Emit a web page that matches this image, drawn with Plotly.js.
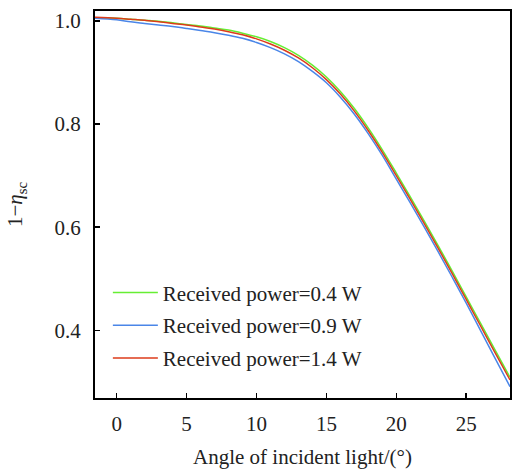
<!DOCTYPE html>
<html>
<head>
<meta charset="utf-8">
<script src="https://cdn.plot.ly/plotly-3.0.1.min.js"></script>
<style>
html,body{margin:0;padding:0;background:#fff;}
#chart{width:512px;height:469px;}
</style>
</head>
<body>
<div id="chart"></div>
<script>
// Angle of incident light (degrees)
const angles = [-1.55, 0, 1, 2, 3, 4, 5, 6, 7, 8, 9, 10, 11, 12, 13, 14, 15, 16, 17, 18, 19, 20, 21, 22, 23, 24, 25, 26, 27, 28.13];
// 1 - eta_sc for each received power
const power04 = [1.006, 1.005, 1.003, 1.001, 0.999, 0.996, 0.993, 0.990, 0.986, 0.982, 0.976, 0.969, 0.960, 0.948, 0.933, 0.914, 0.891, 0.863, 0.830, 0.792, 0.750, 0.705, 0.659, 0.612, 0.564, 0.515, 0.465, 0.415, 0.365, 0.309];
const power09 = [1.005, 1.002, 0.998, 0.995, 0.992, 0.989, 0.985, 0.981, 0.977, 0.972, 0.966, 0.958, 0.948, 0.936, 0.921, 0.902, 0.880, 0.852, 0.819, 0.781, 0.739, 0.693, 0.647, 0.600, 0.552, 0.503, 0.453, 0.401, 0.349, 0.291];
const power14 = [1.007, 1.005, 1.003, 1.001, 0.998, 0.995, 0.992, 0.988, 0.984, 0.979, 0.973, 0.965, 0.955, 0.943, 0.928, 0.909, 0.886, 0.858, 0.825, 0.787, 0.745, 0.700, 0.654, 0.607, 0.559, 0.510, 0.460, 0.410, 0.360, 0.304];
const seriesNames = ["Received power=0.4 W", "Received power=0.9 W", "Received power=1.4 W"];
const seriesColors = ["#66ee33", "#4a86e8", "#dd3b1a"];
const xTicks = [0, 5, 10, 15, 20, 25];
const yTicks = [0.4, 0.6, 0.8, 1.0];
const yTickLabels = ["0.4", "0.6", "0.8", "1.0"];

const font = "Liberation Serif, Times New Roman, serif";
const fs = 21;
const ys = [power04, power09, power14];
const traces = ys.map((y, i) => ({
  x: angles, y: y, type: "scatter", mode: "lines",
  name: seriesNames[i], legendgroup: "g" + i,
  line: {color: seriesColors[i], width: 1.5, shape: "spline", smoothing: 1}
}));

const layout = {
  width: 512, height: 469,
  margin: {l: 95, r: 2, t: 11, b: 71},
  paper_bgcolor: "#fff", plot_bgcolor: "#fff",
  font: {family: font, size: fs, color: "#222"},
  showlegend: true,
  legend: {
    x: 0.031, y: 0.325, xanchor: "left", yanchor: "top",
    bgcolor: "rgba(0,0,0,0)", traceorder: "grouped", tracegroupgap: 2.5,
    itemwidth: 45,
    font: {family: font, size: fs, color: "#222"}
  },
  xaxis: {
    range: [-1.55, 28.13], tickvals: xTicks, ticks: "inside", ticklen: 5, tickwidth: 1.5,
    tickcolor: "#000", showline: true, linecolor: "#000", linewidth: 2, mirror: true,
    showgrid: false, zeroline: false, ticklabelstandoff: 6,
    tickfont: {family: font, size: fs, color: "#222"},
    title: {text: "Angle of incident light/(°)", font: {family: font, size: fs, color: "#222"}, standoff: 14}
  },
  yaxis: {
    range: [0.269, 1.019], tickvals: yTicks, ticktext: yTickLabels, ticks: "inside", ticklen: 5, tickwidth: 1.5,
    tickcolor: "#000", showline: true, linecolor: "#000", linewidth: 2, mirror: true,
    showgrid: false, zeroline: false, ticklabelstandoff: 8,
    tickfont: {family: font, size: fs, color: "#222"},
    title: {text: "1−<i>η</i><sub>sc</sub>", font: {family: font, size: fs, color: "#222"}, standoff: 26}
  }
};

Plotly.newPlot("chart", traces, layout, {displayModeBar: false, staticPlot: true});
</script>
</body>
</html>
